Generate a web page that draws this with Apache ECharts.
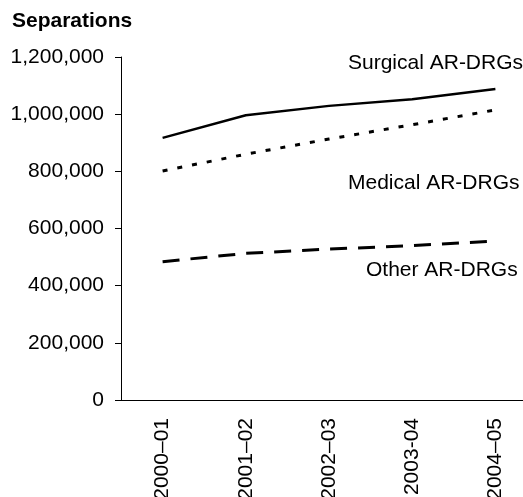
<!DOCTYPE html>
<html>
<head>
<meta charset="utf-8">
<script src="https://cdn.jsdelivr.net/npm/echarts@6/dist/echarts.min.js"></script>
<style>
  html, body { margin: 0; padding: 0; background: #fff; }
  #chart { width: 523px; height: 497px; }
</style>
</head>
<body>
<div id="chart"></div>
<script>
const years = ['2000–01', '2001–02', '2002–03', '2003-04', '2004–05'];
const surgical = [917000, 996000, 1029000, 1052000, 1088000];
const medical = [801000, 860000, 913000, 963000, 1015000];
const other = [484000, 513000, 528000, 540000, 556000];
const yTicks = [0, 200000, 400000, 600000, 800000, 1000000, 1200000];

const FONT = 'Arial, "Liberation Sans", sans-serif';
const chart = echarts.init(document.getElementById('chart'));

// one line series, black, varying dash
function line(name, data, type, width) {
  return {
    name, type: 'line', data,
    symbol: 'none', silent: true, animation: false,
    lineStyle: { color: '#000', width, type }
  };
}

chart.setOption({
  backgroundColor: '#fff',
  textStyle: { fontFamily: FONT, color: '#000' },
  grid: { left: 121, right: -14, top: 57, bottom: 97, containLabel: false, outerBoundsMode: 'none' },
  xAxis: {
    type: 'category',
    data: years,
    boundaryGap: true,
    axisLine: { lineStyle: { color: '#000', width: 1 } },
    axisTick: { length: 6, lineStyle: { color: '#000' } },
    axisLabel: { rotate: 90, margin: 18, fontSize: 21, color: '#000', fontFamily: FONT, interval: 0, hideOverlap: false }
  },
  yAxis: {
    type: 'value',
    min: yTicks[0],
    max: yTicks[yTicks.length - 1],
    interval: 200000,
    splitLine: { show: false },
    axisLine: { show: true, lineStyle: { color: '#000', width: 1 } },
    axisTick: { show: true, length: 6, lineStyle: { color: '#000' } },
    axisLabel: {
      margin: 17, fontSize: 21, color: '#000', fontFamily: FONT,
      formatter: v => v.toLocaleString('en-US')
    }
  },
  series: [
    line('Surgical AR-DRGs', surgical, 'solid', 2.5),
    line('Medical AR-DRGs', medical, [5, 10], 3),
    line('Other AR-DRGs', other, [17, 11], 3)
  ],
  graphic: [
    { type: 'text', left: 12, top: 11, style: { text: 'Separations', font: 'bold 21px ' + FONT, fill: '#000' } },
    { type: 'text', x: 348, y: 63, style: { text: 'Surgical AR-DRGs', font: '21px ' + FONT, fill: '#000', verticalAlign: 'middle' } },
    { type: 'text', x: 348, y: 183, style: { text: 'Medical AR-DRGs', font: '21px ' + FONT, fill: '#000', verticalAlign: 'middle' } },
    { type: 'text', x: 366, y: 270, style: { text: 'Other AR-DRGs', font: '21px ' + FONT, fill: '#000', verticalAlign: 'middle' } }
  ]
});
</script>
</body>
</html>
